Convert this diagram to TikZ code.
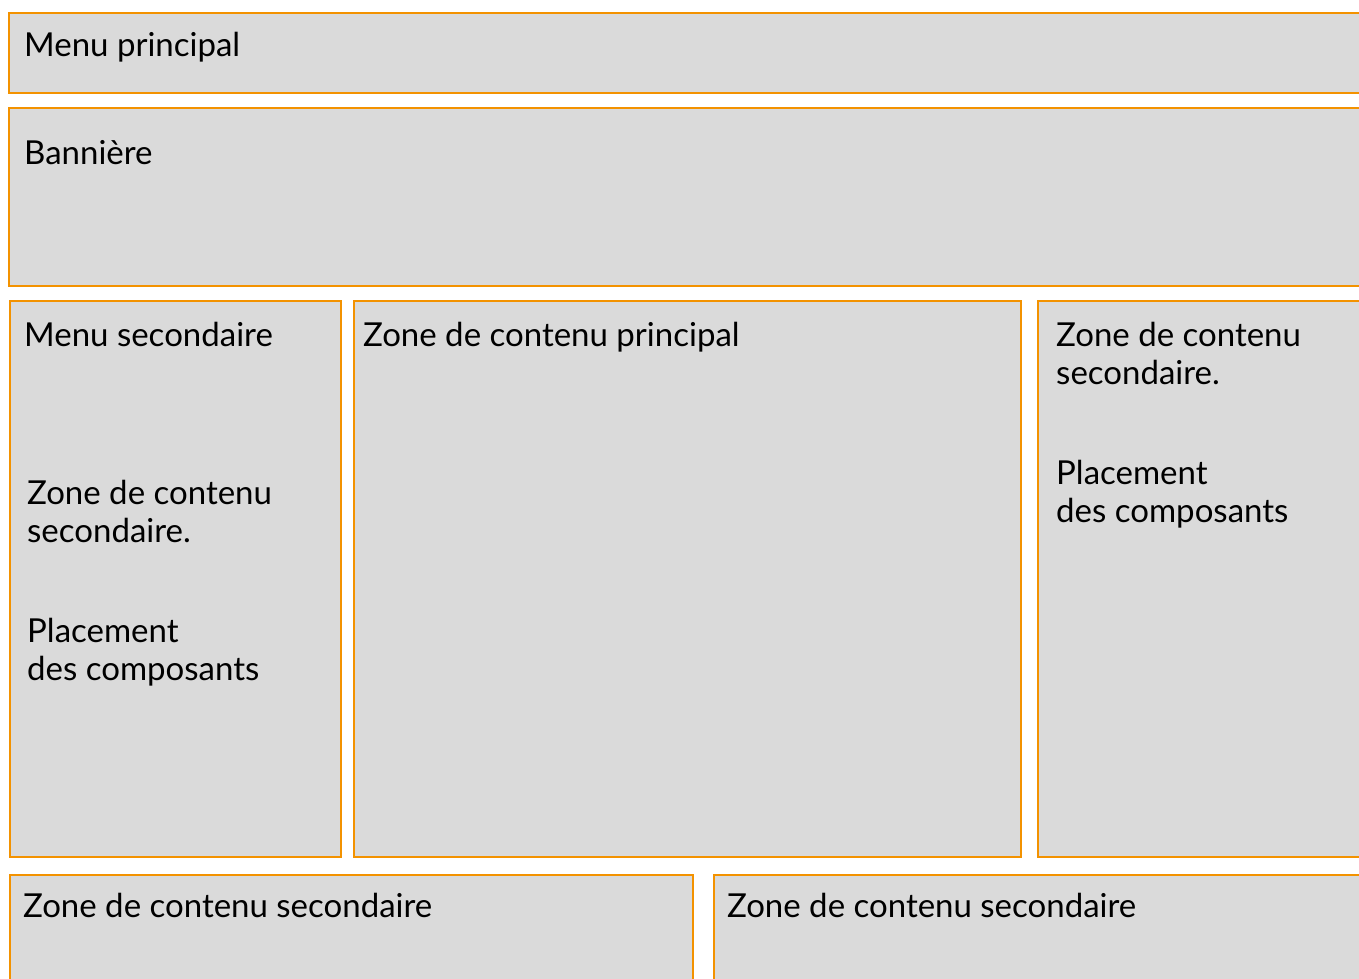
\documentclass[tikz,border=0pt]{standalone}
\usepackage{fontspec}
\setmainfont{Lato}
\definecolor{boxorange}{HTML}{F39200}
\definecolor{boxgray}{HTML}{DADADA}
\begin{document}
\begin{tikzpicture}[x=1pt,y=-1pt,
  zone/.style={draw=boxorange,fill=boxgray,line width=2.6pt},
  lbl/.style={anchor=base west,inner sep=0pt,font=\fontsize{33}{38}\selectfont,align=left}]
\useasboundingbox (0,0) rectangle (1359,978);
\clip (0,0) rectangle (1359,978);
\draw[zone] (9,13) rectangle (1375,93);
\draw[zone] (9,108) rectangle (1375,286);
\draw[zone] (10,301) rectangle (341,857);
\draw[zone] (354,301) rectangle (1021,857);
\draw[zone] (1038,301) rectangle (1375,857);
\draw[zone] (10,875) rectangle (693,995);
\draw[zone] (714,875) rectangle (1375,995);
\node[lbl] (t1) at (24,56) {Menu principal};
\node[lbl] (t2) at (24,164) {Bannière};
\node[lbl] (t3) at (24,346.5) {Menu secondaire};
\node[lbl] (t4) at (27,504) {Zone de contenu};
\node[lbl] (t5) at (27,542) {secondaire.};
\node[lbl] (t6) at (27,642) {Placement};
\node[lbl] (t7) at (27,680) {des composants};
\node[lbl] (t8) at (363,346.5) {Zone de contenu principal};
\node[lbl] (t9) at (1056,346.5) {Zone de contenu};
\node[lbl] (t10) at (1056,384.5) {secondaire.};
\node[lbl] (t11) at (1056,484.5) {Placement};
\node[lbl] (t12) at (1056,522.5) {des composants};
\node[lbl] (t13) at (23,917) {Zone de contenu secondaire};
\node[lbl] (t14) at (727,917) {Zone de contenu secondaire};
\end{tikzpicture}
\end{document}
